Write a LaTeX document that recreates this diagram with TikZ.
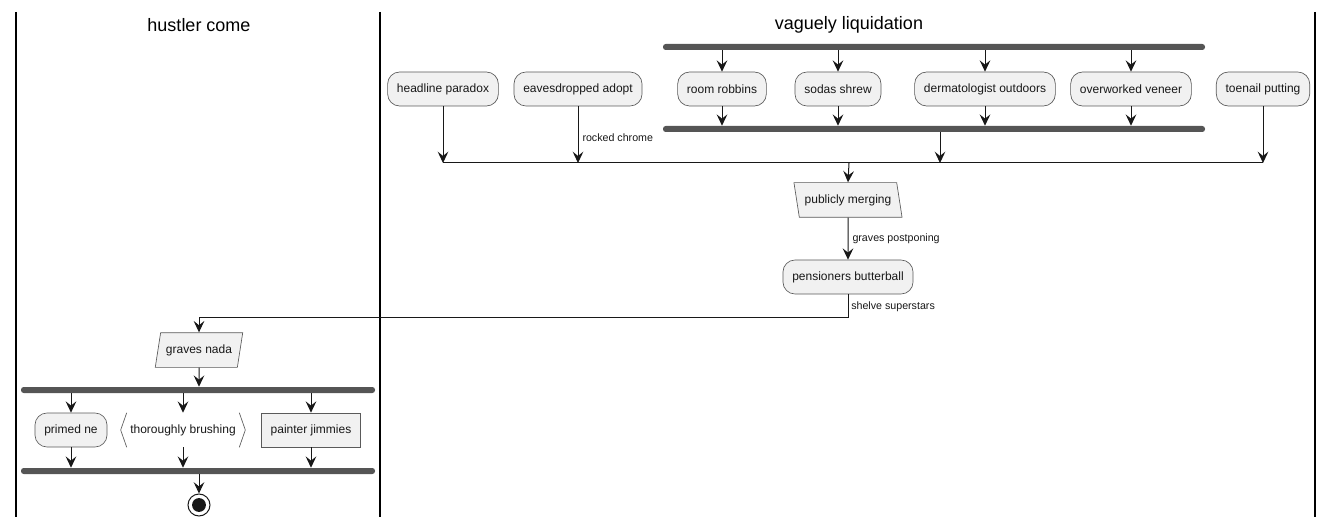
\documentclass[tikz,border=0pt]{standalone}
\usepackage{fontspec}
\setmainfont{Liberation Sans}
\usepackage{tikz}
\usetikzlibrary{arrows.meta,positioning,calc,shapes.geometric}
\definecolor{boxfill}{HTML}{F1F1F1}
\definecolor{boxline}{HTML}{5A5A5A}
\definecolor{barfill}{HTML}{555555}
\definecolor{ink}{HTML}{181818}

\begin{document}
\begin{tikzpicture}[
  x=0.75pt, y=-0.75pt,
  font=\fontsize{9}{11}\selectfont,
  act/.style={draw=boxline, fill=boxfill, rounded corners=9pt, inner xsep=7pt, align=center, text=ink, minimum height=25.5pt, line width=0.5pt},
  box/.style={draw=boxline, fill=boxfill, inner xsep=7pt, text=ink, minimum height=25.5pt, line width=0.5pt},
  iobox/.style={trapezium, trapezium stretches=true, draw=boxline, fill=boxfill, inner xsep=4pt, text=ink, minimum height=26pt, line width=0.5pt},
  bar/.style={fill=barfill, rounded corners=2pt, minimum height=4.5pt, inner sep=0pt},
  lbl/.style={font=\fontsize{8}{10}\selectfont, anchor=west, inner sep=0pt, text=ink},
  lane/.style={line width=1pt, black},
  arr/.style={-{Stealth[length=8.5pt, width=8pt, inset=3.2pt]}, color=ink, line width=0.75pt},
  ln/.style={color=ink, line width=0.75pt}
]
\useasboundingbox (0,0) rectangle (1334,527);

% swimlanes
\draw[lane] (16,12) -- (16,517);
\draw[lane] (380,12) -- (380,517);
\draw[lane] (1315,12) -- (1315,517);
\node[font=\fontsize{13.5}{16}\selectfont] (t1) at (199,25) {hustler come};
\node[font=\fontsize{13.5}{16}\selectfont] (t2) at (849,25) {vaguely liquidation};

% right lane
\node[bar, minimum width=406.5pt] (fk1) at (934,47) {};
\node[act] (hp) at (443,89) {headline paradox};
\node[act] (ea) at (578,89) {eavesdropped adopt};
\node[act] (rr) at (722,89) {room robbins};
\node[act] (ss) at (838,89) {sodas shrew};
\node[act] (do) at (985,89) {dermatologist outdoors};
\node[act] (ov) at (1131,89) {overworked veneer};
\node[act] (tp) at (1263,89) {toenail putting};
\node[bar, minimum width=406.5pt] (jn1) at (934,129) {};
\coordinate (mg) at (849,163);
\coordinate (jx) at ($(jn1.south)+(6,0)$);
\node[iobox, trapezium left angle=105, trapezium right angle=75] (pm) at (848,200) {publicly merging};
\node[act] (pb) at (848,277) {pensioners butterball};

\foreach \n in {rr,ss,do,ov} {
  \draw[arr] (\n |- fk1.south) -- (\n.north);
  \draw[arr] (\n.south) -- (\n |- jn1.north);
}
\draw[arr] (hp.south) -- (hp |- mg);
\draw[arr] (ea.south) -- node[lbl, pos=0.55, right=3pt] {rocked chrome} (ea |- mg);
\draw[arr] (jx) -- (jx |- mg);
\draw[arr] (tp.south) -- (tp |- mg);
\draw[ln] (hp |- mg) -- (tp |- mg);
\draw[arr] (mg) -- (pm.north);
\draw[arr] (pm.south) -- node[lbl, right=3pt] {graves postponing} (pb.north);

% left lane
\node[iobox, trapezium left angle=75, trapezium right angle=105] (gn) at (199,350) {graves nada};
\node[bar, minimum width=265.5pt] (fk2) at (198,390) {};
\node[act] (pn) at (71,430) {primed ne};
\node[inner xsep=7pt, minimum height=25.5pt, text=ink] (tb) at (183,430) {thoroughly brushing};
\node[box] (pj) at (311,430) {painter jimmies};
\node[bar, minimum width=265.5pt] (jn2) at (198,471) {};
\node[circle, draw=ink, fill=white, line width=0.75pt, minimum size=16.5pt, inner sep=0pt] (stop) at (199,505) {};
\fill[ink] (stop) circle (5.2pt);

\draw[boxline, line width=0.5pt] ($(tb.north west)+(6,0)$) -- (tb.west) -- ($(tb.south west)+(6,0)$);
\draw[boxline, line width=0.5pt] ($(tb.north east)+(-6,0)$) -- (tb.east) -- ($(tb.south east)+(-6,0)$);

\coordinate (turn) at ($(pb.south)+(0,23)$);
\node[lbl] (shl) at ($(pb.south)+(3,12)$) {shelve superstars};
\draw[arr] (pb.south) -- (turn) -| (gn.north);
\draw[arr] (gn.south) -- (gn |- fk2.north);
\foreach \n in {pn,tb,pj} {
  \draw[arr] (\n |- fk2.south) -- (\n.north);
  \draw[arr] (\n.south) -- (\n |- jn2.north);
}
\draw[arr] (jn2.south -| stop) -- (stop.north);
\end{tikzpicture}
\end{document}
